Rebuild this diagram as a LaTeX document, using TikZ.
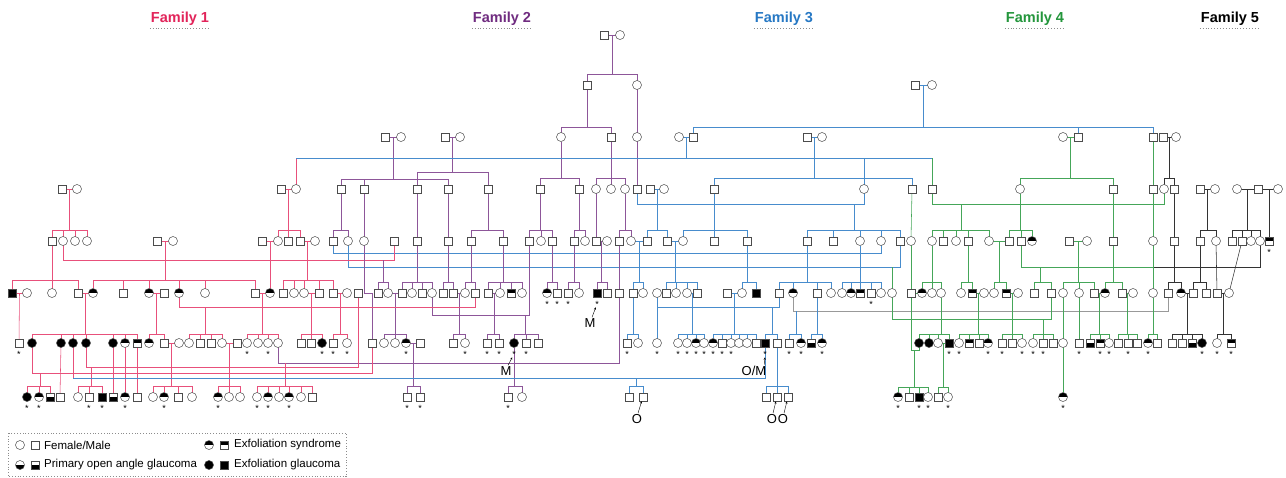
\documentclass[tikz,border=0pt]{standalone}
\usepackage{fontspec}
\setmainfont{Liberation Sans}
\usetikzlibrary{arrows.meta,calc}
\pgfdeclarelayer{bg}
\pgfsetlayers{bg,main}
\definecolor{c1}{RGB}{226,36,90}
\definecolor{c2}{RGB}{112,44,128}
\definecolor{c3}{RGB}{38,120,196}
\definecolor{c4}{RGB}{36,150,60}
\tikzset{
 sy/.style={draw=black!70, line width=0.5pt, fill=white, inner sep=0pt, outer sep=0pt},
 pm/.style={sy, rectangle, minimum size=8.5pt},
 pf/.style={sy, circle, minimum size=9pt},
 tf/.style={path picture={\fill[black] (path picture bounding box.north west) rectangle (path picture bounding box.east);}},
 bf/.style={path picture={\fill[black] (path picture bounding box.west) rectangle (path picture bounding box.south east);}},
 pmA/.style={pm, fill=black}, pfA/.style={pf, fill=black},
 pmT/.style={pm, tf}, pfT/.style={pf, tf}, pmB/.style={pm, bf}, pfB/.style={pf, bf},
 l1/.style={draw=c1!80, line width=0.55pt},
 l2/.style={draw=c2!80, line width=0.55pt},
 l3/.style={draw=c3!85, line width=0.55pt},
 l4/.style={draw=c4!85, line width=0.55pt},
 l5/.style={draw=black!80, line width=0.55pt},
 lg/.style={draw=black!40, line width=0.55pt},
 stl/.style={font=\fontsize{9}{9}\selectfont, inner sep=0pt},
 lab/.style={font=\fontsize{13}{13}\selectfont, inner sep=0pt},
 arw/.style={-{Stealth[length=2.5pt,width=2pt]}, line width=0.4pt, black},
 ttl/.style={font=\bfseries\fontsize{14.5}{14.5}\selectfont, inner sep=1pt},
 lt/.style={anchor=west, font=\fontsize{11.5}{12}\selectfont, inner sep=0pt},
}
\newcommand\mar[4][l1]{\draw[#1] (#2.center) -- coordinate (#4) (#3.center);}
\newcommand\sib[7][l1]{%
  \draw[#1] (#2) -- (#2 |- 0,#3);
  \draw[#1] (#4#5 |- 0,#3) -- (#4#6 |- 0,#3);
  \foreach \cc in {#7} {\draw[#1] (#4\cc.center) -- (#4\cc |- 0,#3);}
}
\begin{document}
\begin{tikzpicture}[x=1pt,y=-1pt]
\useasboundingbox (0,0) rectangle (1286,477);
% ---------- titles
\node[ttl, text=c1] (t1) at (180,19) {Family 1};
\node[ttl, text=c2] (t2) at (502,19) {Family 2};
\node[ttl, text=c3] (t3) at (784,19) {Family 3};
\node[ttl, text=c4] (t4) at (1035,19) {Family 4};
\node[ttl, text=black] (t5) at (1230,19) {Family 5};
\foreach \tt in {t1,t2,t3,t4,t5} {\draw[black!45, dotted, line width=0.9pt] ([yshift=-1pt]\tt.south west) -- ([yshift=-1pt]\tt.south east);}
% ---------- symbols
\foreach \xx/\ty in {604/pm,620/pf} {\node[\ty] (a\xx) at (\xx,35) {};}
\foreach \xx/\ty in {587/pm,637/pf,915/pm,932/pf} {\node[\ty] (b\xx) at (\xx,85) {};}
\foreach \xx/\ty in {385/pm,401/pf,445/pm,460/pf,561/pf,611/pm,637/pf,679/pf,693/pm,807/pm,822/pf,1063/pf,1078/pm,1153/pm,1163/pm,1176/pf} {\node[\ty] (c\xx) at (\xx,137) {};}
\foreach \xx/\ty in {62/pm,77/pf,281/pm,296/pf,341/pm,364/pm,417/pm,448/pm,488/pm,540/pm,579/pm,596/pf,611/pf,625/pf,637/pm,650/pm,664/pf,714/pm,864/pf,912/pm,932/pm,1020/pf,1113/pm,1153/pm,1164/pf,1174/pm,1200/pm,1215/pf,1237/pf,1258/pm,1278/pf} {\node[\ty] (d\xx) at (\xx,189) {};}
\foreach \xx/\ty in {52/pm,63/pf,75/pf,87/pf,157/pm,173/pf,262/pm,278/pf,288/pm,300/pm,315/pf,333/pm,348/pf,364/pf,394/pm,417/pm,448/pm,471/pm,503/pm,529/pm,541/pf,552/pm,574/pm,585/pf,596/pm,607/pf,619/pm,631/pf,647/pm,667/pm,683/pf,714/pm,747/pm,807/pm,833/pm,860/pf,881/pf,900/pm,911/pf,932/pf,943/pm,956/pf,968/pm,989/pf,1009/pm,1021/pm,1032/pfT,1069/pm,1087/pf,1113/pm,1153/pf,1174/pm,1200/pm,1216/pf,1232/pm,1242/pm,1251/pf,1260/pf,1269/pmT} {\node[\ty] (e\xx) at (\xx,241) {};}
\foreach \xx/\ty in {12/pmA,27/pf,52/pf,78/pm,93/pfT,123/pm,149/pfT,164/pm,179/pfT,205/pf,255/pm,270/pfT,283/pm,294/pf,304/pf,319/pm,333/pm,347/pf,358/pm,378/pm,388/pf,402/pm,412/pf,422/pm,432/pf,443/pm,453/pm,465/pf,475/pm,488/pm,500/pf,511/pmT,522/pf,547/pfT,557/pm,568/pm,579/pf,597/pmA,607/pm,619/pm,633/pm,643/pf,657/pf,666/pm,676/pf,687/pf,697/pm,727/pm,742/pf,756/pmA,779/pm,793/pfT,817/pm,831/pf,842/pf,851/pfT,860/pmT,871/pm,881/pf,892/pf,911/pm,922/pfT,932/pf,941/pf,961/pf,972/pmT,984/pf,994/pf,1006/pmT,1018/pf,1034/pm,1051/pm,1063/pf,1079/pf,1094/pm,1105/pfT,1122/pm,1133/pf,1153/pf,1168/pm,1181/pfT,1193/pm,1206/pm,1217/pm,1229/pf} {\node[\ty] (f\xx) at (\xx,293) {};}
\foreach \xx/\ty in {19/pm,32/pfA,61/pfA,73/pfA,86/pfA,113/pfA,125/pfT,137/pmT,149/pfT,164/pm,179/pf,189/pf,200/pm,211/pm,222/pf,237/pm,247/pf,258/pf,268/pf,278/pf,301/pm,311/pm,322/pfA,333/pm,347/pf,372/pm,384/pf,395/pf,406/pfT,420/pm,453/pm,465/pf,487/pm,499/pm,514/pfA,526/pm,538/pm,627/pm,638/pf,657/pf,678/pf,687/pf,696/pfT,704/pf,713/pfT,722/pm,731/pf,739/pf,747/pf,756/pm,765/pmA,777/pm,789/pm,801/pfT,811/pmB,822/pfT,919/pfA,929/pfA,938/pf,949/pmA,959/pf,969/pmT,979/pm,988/pfT,1002/pm,1012/pm,1022/pf,1033/pf,1043/pm,1053/pm,1063/pf,1079/pm,1090/pmB,1100/pmT,1109/pf,1118/pm,1128/pm,1137/pm,1148/pfT,1157/pm,1172/pm,1182/pm,1192/pmB,1202/pfA,1217/pf,1231/pmT} {\node[\ty] (g\xx) at (\xx,343) {};}
\foreach \xx/\ty in {27/pfA,39/pfT,50/pmB,60/pm,78/pf,89/pm,102/pmA,113/pmB,125/pfT,137/pm,153/pf,164/pfT,178/pm,192/pf,218/pfT,229/pf,240/pf,257/pf,268/pfT,279/pf,289/pfT,301/pf,312/pm,407/pm,420/pm,508/pm,522/pf,629/pm,643/pm,766/pm,777/pm,788/pm,898/pfT,909/pm,919/pmA,928/pf,938/pm,948/pf,1063/pfT} {\node[\ty] (h\xx) at (\xx,397) {};}
% ---------- stars
\foreach \xx in {1269} {\node[stl] (se\xx) at (\xx,252) {*};}
\foreach \xx in {547,557,568,597,871} {\node[stl] (sf\xx) at (\xx,304) {*};}
\foreach \xx in {19,247,268,322,333,347,406,465,487,499,514,526,627,657,678,687,696,704,713,722,731,765,789,801,822,949,959,988,1002,1022,1033,1043,1079,1100,1109,1128,1148,1202,1217,1231} {\node[stl] (sg\xx) at (\xx,354) {*};}
\foreach \xx in {27,39,89,102,125,164,218,257,268,289,407,420,508,898,919,928,948,1063} {\node[stl] (sh\xx) at (\xx,408) {*};}
% ---------- labels
\node[lab] (LM1) at (590,323) {M};
\node[lab] (LM2) at (506,371) {M};
\node[lab] (LOM) at (754,371) {O/M};
\node[lab] (LO1) at (637,419) {O};
\node[lab] (LO2) at (772,419) {O};
\node[lab] (LO3) at (783,419) {O};
\draw[arw] (LM1.north) ++(2,-1) -- (sf597);
\draw[arw] (LM2.north) ++(2,-1) -- (sg514);
\draw[arw] (LOM.north east) ++(-2,-1) -- (sg765);
\draw[arw] (LO1.north) ++(1,-1) -- (h643);
\draw[arw] (LO2.north) ++(1,-1) -- (h777);
\draw[arw] (LO3.north) ++(1,-1) -- (h788);
% ---------- legend
\draw[black!45, dotted, line width=0.8pt] (8,433) rectangle (346,476.5);
\node[pf] (lgA) at (20,445) {}; \node[pm] (lgB) at (35,445) {}; \node[lt] (lgC) at (44,445) {Female/Male};
\node[pfB] (lgD) at (20,465) {}; \node[pmB] (lgE) at (35,465) {}; \node[lt] (lgF) at (44,465) {Primary open angle glaucoma};
\node[pfT] (lgG) at (209,445) {}; \node[pmT] (lgH) at (224,445) {}; \node[lt] (lgI) at (234,445) {Exfoliation syndrome};
\node[pfA] (lgJ) at (209,465) {}; \node[pmA] (lgK) at (224,465) {}; \node[lt] (lgL) at (234,465) {Exfoliation glaucoma};
% ---------- lines
\begin{pgfonlayer}{bg}
\fill[white] (0,0) rectangle (1286,477);
% Family 2
\mar[l2]{a604}{a620}{m1}
\sib[l2]{m1}{74}{b}{587}{637}{587,637}
\sib[l2]{b587}{127}{c}{561}{611}{561,611}
\draw[l2] (b637.center) -- (c637.center);
\mar[l2]{c385}{c401}{m2} \sib[l2]{m2}{179}{d}{341}{448}{341,364,448}
\mar[l2]{c445}{c460}{m3} \sib[l2]{m3}{172}{d}{417}{488}{417,488}
\sib[l2]{c561}{178}{d}{540}{579}{540,579}
\sib[l2]{c611}{178}{d}{596}{625}{596,611,625}
\draw[l2] (c637.center) -- (d637.center);
\draw[l3] (d637.center) |- (d864 |- 0,204) -- (d864.center);
\sib[l2]{d341}{230}{e}{333}{348}{333,348}
\draw[l2] (d364.center) -- (e364.center);
\draw[l2] (d417.center) -- (e417.center);
\draw[l2] (d448.center) -- (e448.center);
\sib[l2]{d488}{230}{e}{471}{503}{471,503}
\sib[l2]{d540}{230}{e}{529}{552}{529,541,552}
\sib[l2]{d579}{230}{e}{574}{585}{574,585}
\draw[l2] (d596.center) -- (e596.center);
\sib[l2]{d625}{230}{e}{619}{631}{619,631}
\draw[l3] (e333.center) |- (e881 |- 0,253) -- (e881.center);
\draw[l3] (e348.center) |- (e900 |- 0,267) -- (e900.center);
\draw[l4] (f892.center) -- (f892 |- 0,267);
\draw[l1] (e63.center) |- (e394 |- 0,260) -- (e394.center);
\coordinate (m4) at (383,260); \sib[l2]{m4}{282}{f}{378}{388}{378,388}
\sib[l2]{e417}{282}{f}{402}{432}{402,412,422,432}
\sib[l2]{e448}{282}{f}{443}{453}{443,453}
\sib[l2]{e471}{282}{f}{465}{475}{465,475}
\sib[l2]{e503}{282}{f}{488}{522}{488,500,511,522}
\sib[l2]{e552}{282}{f}{547}{557}{547,557}
\sib[l2]{e574}{282}{f}{568}{579}{568,579}
\mar[l2]{e596}{e607}{m5} \sib[l2]{m5}{282}{f}{597}{607}{597,607}
\mar[l3]{e631}{e647}{m6} \sib[l3]{m6}{282}{f}{633}{643}{633,643}
\draw[l2] (e364.center) |- (g372 |- 0,293) -- (g372.center);
\draw[l2] (e619.center) -- (e619 |- 0,363) -| (g278.center);
\coordinate (m7) at (285,363); \sib[l1]{m7}{386}{h}{257}{312}{257,268,279,289,301,312}
\mar[l2]{f453}{f465}{m8} \sib[l2]{m8}{334}{g}{453}{465}{453,465}
\mar[l2]{f488}{f500}{m9} \sib[l2]{m9}{334}{g}{487}{499}{487,499}
\draw[l2] (f432.center) |- (e529 |- 0,315) -- (e529.center);
\coordinate (m10) at (525,315); \sib[l2]{m10}{334}{g}{514}{538}{514,526,538}
\mar[l2]{f388}{f402}{m11} \sib[l2]{m11}{334}{g}{384}{406}{384,395,406}
\mar[l2]{g406}{g420}{m12} \sib[l2]{m12}{386}{h}{407}{420}{407,420}
\sib[l2]{g514}{386}{h}{508}{522}{508,522}
\sib[l3]{f633}{334}{g}{627}{638}{627,638}
% Family 1
\mar{d62}{d77}{n1} \sib{n1}{230}{e}{52}{87}{52,63,75,87}
\mar{e157}{e173}{n2} \sib{n2}{280}{f}{93}{255}{93,123,149,179,205,255}
\sib{e52}{280}{f}{12}{78}{12,52,78}
\draw[l1] (d296.center) -- (d296 |- 0,158);
\mar{d281}{d296}{n3} \sib{n3}{230}{e}{278}{300}{278,288,300}
\mar{e262}{e278}{n4} \draw[l1] (n4) -- (f270.center);
\mar{e300}{e315}{n5} \sib{n5}{280}{f}{283}{333}{283,294,304,319,333}
\mar{f12}{f27}{n6} \draw[l1] (n6) -- (g19.center);
\mar{f78}{f93}{n7} \sib{n7}{334}{g}{32}{137}{32,61,73,86,113,125,137}
\mar{f149}{f164}{n8} \sib{n8}{334}{g}{149}{164}{149,164}
\mar{f255}{f270}{n9} \sib{n9}{334}{g}{247}{278}{247,258,268,278}
\mar{f304}{f319}{n10} \sib{n10}{334}{g}{301}{322}{301,311,322}
\mar{f333}{f347}{n11} \sib{n11}{334}{g}{333}{347}{333,347}
\draw[l1] (f179.center) |- (f475 |- 0,307) -- (f475.center);
\coordinate (n12) at (205,307); \sib{n12}{334}{g}{189}{222}{189,200,211,222}
\mar{g164}{g179}{n13} \sib{n13}{386}{h}{153}{192}{153,164,178,192}
\mar{g222}{g237}{n14} \sib{n14}{386}{h}{218}{240}{218,229,240}
\draw[l1] (g61.center) -- (h60.center);
\draw[l1] (g113.center) -- (h113.center);
\draw[l1] (g125.center) -- (h125.center);
\draw[l1] (g137.center) -- (h137.center);
\draw[l1] (g32.center) |- (g372 |- 0,373) -- (g372.center);
\coordinate (n15) at (40,373); \sib{n15}{386}{h}{27}{50}{27,39,50}
\draw[l1] (g86.center) |- (f358 |- 0,367) -- (f358.center);
\coordinate (n16) at (91,367); \sib{n16}{386}{h}{78}{102}{78,89,102}
\draw[l1] (g73.center) -- (g73 |- 0,378);
\draw[l3] (g73 |- 0,378) -- (g765 |- 0,378) -- (g765.center);
\coordinate (n17) at (636,378); \sib[l3]{n17}{386}{h}{629}{643}{629,643}
% Family 3
\mar[l3]{b915}{b932}{p1} \sib[l3]{p1}{127}{c}{693}{1153}{693,1078,1153}
\mar[l3]{c679}{c693}{p2} \draw[l3] (p2) -- (p2 |- 0,158);
\draw[l3] (d296 |- 0,158) -- (d932 |- 0,158);
\draw[l3] (d864.center) -- (d864 |- 0,158);
\draw[l4] (d932.center) -- (d932 |- 0,158);
\mar[l3]{c807}{c822}{p3} \sib[l3]{p3}{178}{d}{714}{912}{714,912}
\mar[l3]{d650}{d664}{p4} \sib[l3]{p4}{230}{e}{647}{667}{647,667}
\sib[l3]{d714}{230}{e}{683}{747}{683,714,747}
\coordinate (p5) at (854,204); \sib[l3]{p5}{230}{e}{807}{900}{807,833,860,881,900}
\draw[l4] (d912.center) -- (e911.center);
\draw[l4] (e911.center) -- (f911.center);
\mar[l3]{e667}{e683}{p6} \sib[l3]{p6}{282}{f}{666}{697}{666,676,687,697}
\sib[l3]{e747}{282}{f}{742}{756}{742,756}
\sib[l3]{e807}{282}{f}{779}{831}{779,793,817,831}
\sib[l3]{e860}{282}{f}{842}{881}{842,851,860,871,881}
\mar[l3]{f727}{f742}{p7} \sib[l3]{p7}{334}{g}{713}{756}{713,722,731,739,747,756}
\mar[l3]{f687}{f697}{p8} \sib[l3]{p8}{334}{g}{678}{704}{678,687,696,704}
\draw[l3] (f657.center) -- (g657.center);
\draw[l3] (g657 |- 0,307) -- (f779 |- 0,307) -- (f779.center);
\coordinate (p9) at (772,307); \sib[l3]{p9}{334}{g}{765}{777}{765,777}
\draw[lg] (f793.center) |- (f1168 |- 0,311) -- (f1168.center);
\coordinate (p10) at (796,311); \sib[l3]{p10}{334}{g}{789}{801}{789,801}
\sib[l3]{f817}{334}{g}{811}{822}{811,822}
\sib[l3]{g777}{386}{h}{766}{788}{766,777,788}
% Family 4
\mar[l4]{c1063}{c1078}{q1} \sib[l4]{q1}{178}{d}{1020}{1113}{1020,1113}
\draw[l4] (d932.center) |- (d1164 |- 0,204) -- (d1164.center);
\coordinate (q2) at (961,204); \sib[l4]{q2}{230}{e}{932}{989}{932,943,956,968,989}
\sib[l4]{d1020}{230}{e}{1009}{1032}{1009,1021,1032}
\mar[l4]{e989}{e1009}{q3} \sib[l4]{q3}{282}{f}{994}{1006}{994,1006}
\sib[l4]{e968}{282}{f}{961}{972}{961,972}
\sib[l4]{e932}{282}{f}{922}{941}{922,932,941}
\mar[l4]{f911}{f922}{q4}
\draw[l4] (e1021.center) |- (1153,267);
\draw[l5] (1153,267) -| (e1260.center);
\coordinate (q5) at (1040,267); \sib[l4]{q5}{282}{f}{1034}{1051}{1034,1051}
\mar[l4]{e1069}{e1087}{q6} \sib[l4]{q6}{282}{f}{1063}{1094}{1063,1079,1094}
\draw[l4] (d1113.center) -- (e1113.center);
\sib[l4]{e1113}{282}{f}{1105}{1122}{1105,1122}
\draw[l4] (c1153.center) -- (f1153.center);
\mar[l4]{f972}{f984}{q7} \sib[l4]{q7}{334}{g}{959}{988}{959,969,979,988}
\mar[l4]{f1006}{f1018}{q8} \sib[l4]{q8}{334}{g}{1002}{1022}{1002,1012,1022}
\draw[l4] (f892.center) |- (f1051 |- 0,319) -- (f1051.center);
\coordinate (q9) at (1043,319); \sib[l4]{q9}{334}{g}{1033}{1053}{1033,1043,1053}
\draw[l4] (f1063.center) -- (h1063.center);
\draw[l4] (f1079.center) -- (g1079.center);
\mar[l4]{f1094}{f1105}{q10} \sib[l4]{q10}{334}{g}{1090}{1109}{1090,1100,1109}
\mar[l4]{f1122}{f1133}{q11} \sib[l4]{q11}{334}{g}{1118}{1137}{1118,1128,1137}
\sib[l4]{f1153}{334}{g}{1148}{1157}{1148,1157}
\sib[l4]{f941}{334}{g}{919}{949}{919,929,938,949}
\draw[l4] (f911.center) |- (g919 |- 0,350) -- (g919.center);
\coordinate (q12) at (914,350); \sib[l4]{q12}{387}{h}{898}{928}{898,909,919,928}
\mar[l4]{g938}{g949}{q13} \sib[l4]{q13}{387}{h}{938}{948}{938,948}
% Family 5
\mar[l5]{c1163}{c1176}{r1} \sib[l5]{r1}{178}{d}{1164}{1174}{1164,1174}
\draw[l5] (d1174.center) -- (e1174.center);
\sib[l5]{e1174}{282}{f}{1168}{1181}{1168,1181}
\mar[l5]{d1200}{d1215}{r2} \sib[l5]{r2}{230}{e}{1200}{1216}{1200,1216}
\draw[l5] (d1237.center) -- (d1278.center);
\coordinate (r3) at (1247,189); \sib[l5]{r3}{230}{e}{1232}{1260}{1232,1242,1251,1260}
\draw[l5] (1269,189) -- (e1269.center);
\sib[l5]{e1200}{282}{f}{1193}{1206}{1193,1206}
\draw[l5] (e1216.center) -- (f1217.center);
\draw[l5] (e1242.center) -- (f1229.center);
\mar[l5]{f1217}{f1229}{r4} \sib[l5]{r4}{334}{g}{1217}{1231}{1217,1231}
\mar[l5]{f1181}{f1193}{r5} \sib[l5]{r5}{334}{g}{1172}{1202}{1172,1182,1192,1202}
\end{pgfonlayer}
\end{tikzpicture}
\end{document}
